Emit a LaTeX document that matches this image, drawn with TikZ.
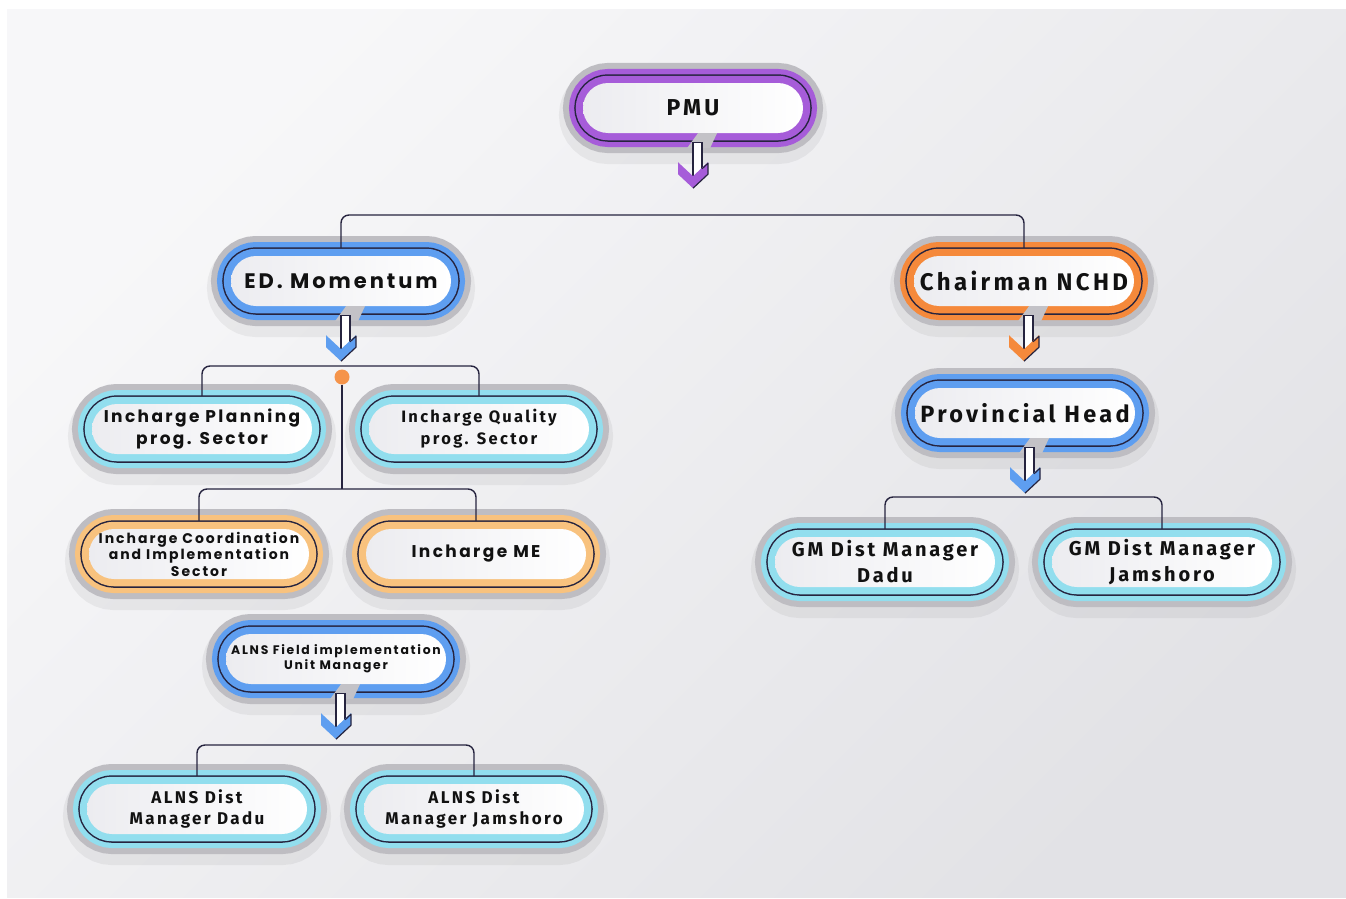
\documentclass[tikz,border=0pt]{standalone}
\usepackage{fontspec}
\setmainfont{Fira Sans}
\newfontfamily\geofont[LetterSpace=14]{Poppins}
\newfontfamily\humfont[LetterSpace=14]{Fira Sans}
\usetikzlibrary{positioning}

\definecolor{navy}{HTML}{26243F}
\definecolor{ink}{HTML}{111111}
\definecolor{ringgray}{HTML}{BEBDC2}
\definecolor{gapgray}{HTML}{C3C2C7}
\definecolor{paper}{HTML}{ECECF0}
\definecolor{purplering}{HTML}{A65CD9}
\definecolor{bluering}{HTML}{5E9EF0}
\definecolor{orangering}{HTML}{F5893B}
\definecolor{cyanring}{HTML}{92DEEE}
\definecolor{peachring}{HTML}{F8C27E}
\definecolor{dotorange}{HTML}{F5944A}

\tikzset{
  orgnode/.style={rectangle, rounded corners=25pt, minimum width=220pt,
    minimum height=50pt, inner sep=0pt, align=center, text=ink,
    left color=paper, right color=white,
    preaction={draw=black, draw opacity=.05, line width=48pt, transform canvas={yshift=-7pt}},
    preaction={draw=ringgray, line width=40pt},
    preaction={draw=#1, line width=28pt},
    preaction={draw=navy, line width=17.5pt},
    preaction={draw=#1, line width=14.5pt}},
  hum/.style 2 args={font=\humfont\bfseries\fontsize{#1}{#2}\selectfont},
  geo/.style 2 args={font=\geofont\bfseries\fontsize{#1}{#2}\selectfont},
  link/.style={draw=navy, line width=1.4pt, rounded corners=8pt},
  hubdot/.style={circle, fill=dotorange, minimum size=15pt, inner sep=0pt},
  pics/flowarrow/.style={code={
    \fill[gapgray] (5,0) -- (24,0) -- (17,15) -- (-6,15) -- cycle;
    \filldraw[draw=navy, fill=white, line width=1.2pt] (0,44) -- (0,9) -- (9,9) -- (9,36);
    \fill[#1] (-15,29) -- (0,43) -- (15,29) -- (15,41) -- (0,55) -- (-15,41) -- cycle;
    \draw[navy, line width=1.2pt, line join=round] (9,35.6) -- (15,30) -- (15,41) -- (0,55);
  }}
}

\begin{document}
\begin{tikzpicture}[x=1pt, y=-1pt]
\useasboundingbox (0,0) rectangle (1346,899);
\fill[white] (0,0) rectangle (1346,899);
\shade[top color=white!60!paper, bottom color=paper!85!gray!60!paper, shading angle=45] (7,10) rectangle (1346,897);

% top level
\node[orgnode=purplering, hum={23}{26}] (pmu) at (693,108) {PMU};
\node[orgnode=bluering, geo={21}{24}] (ed) at (341,281) {ED. Momentum};
\node[orgnode=orangering, hum={24}{26}] (chair) at (1024,281) {Chairman NCHD};
\node[orgnode=bluering, hum={23.5}{28}] (prov) at (1025,413) {Provincial Head};

% ED. Momentum branch
\node[orgnode=cyanring, geo={17}{22}] (plan) at (202,429) {Incharge Planning\\prog. Sector};
\node[orgnode=cyanring, hum={16.5}{22}] (qual) at (479,429) {Incharge Quality\\prog. Sector};
\node[orgnode=peachring, geo={14}{16.5}] (coord) at (199,554) {Incharge Coordination\\and Implementation\\Sector};
\node[orgnode=peachring, geo={17}{20}] (me) at (476,554) {Incharge ME};
\node[orgnode=bluering, geo={12.4}{15}] (field) at (336,659) {ALNS Field implementation\\Unit Manager};
\node[orgnode=cyanring, hum={17}{21}] (adadu) at (197,809) {ALNS Dist\\Manager Dadu};
\node[orgnode=cyanring, hum={17}{21}] (ajam) at (474,809) {ALNS Dist\\Manager Jamshoro};

% provincial branch
\node[orgnode=cyanring, hum={20}{26}] (gdadu) at (885,562) {GM Dist Manager\\Dadu};
\node[orgnode=cyanring, hum={20}{26}] (gjam) at (1162,562) {GM Dist Manager\\Jamshoro};

% arrows under the parents
\pic at (pmu.south) {flowarrow=purplering};
\pic at (ed.south) {flowarrow=bluering};
\pic at (chair.south) {flowarrow=orangering};
\pic at (prov.south) {flowarrow=bluering};
\pic at (field.south) {flowarrow=bluering};

% connectors
\coordinate (pmubus) at (693,215);
\coordinate (edbus) at (342,366);
\coordinate (edbus2) at (342,489);
\coordinate (fieldbus) at (336,745);
\coordinate (provbus) at (1025,497);
\draw[link] ([yshift=8pt]ed.north) |- (pmubus) -| ([yshift=8pt]chair.north);
\draw[link] ([yshift=8pt]plan.north) |- (edbus) -| ([yshift=8pt]qual.north);
\node[hubdot] (hub) at (342,377) {};
\draw[link] (hub) -- (edbus2);
\draw[link] ([yshift=8pt]coord.north) |- (edbus2) -| ([yshift=8pt]me.north);
\draw[link] ([yshift=8pt]adadu.north) |- (fieldbus) -| ([yshift=8pt]ajam.north);
\draw[link] ([yshift=8pt]gdadu.north) |- (provbus) -| ([yshift=8pt]gjam.north);
\end{tikzpicture}
\end{document}
